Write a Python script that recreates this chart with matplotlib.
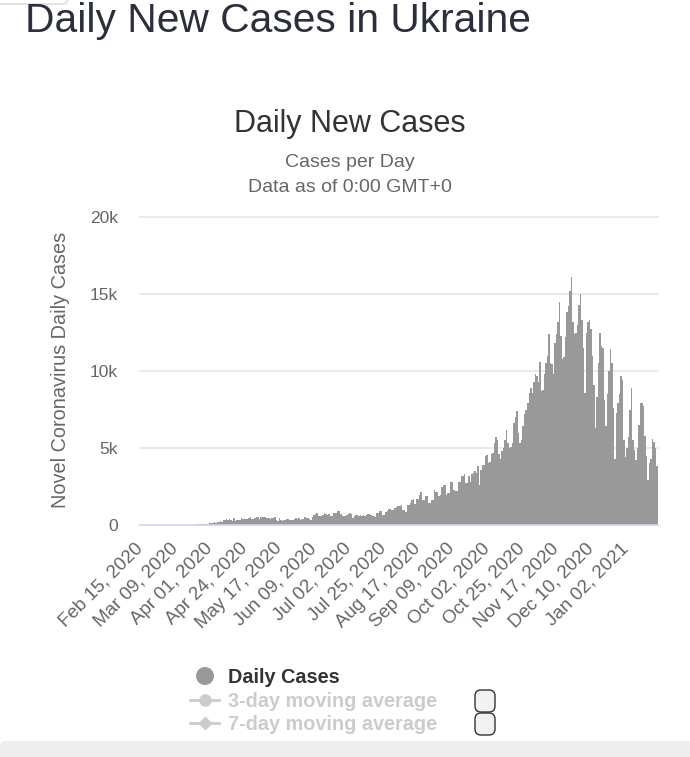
import matplotlib
matplotlib.use("Agg")
import matplotlib.pyplot as plt
from matplotlib.patches import Circle, FancyBboxPatch
import numpy as np
import pandas as pd

plt.rcParams['font.family'] = ['Liberation Sans', 'DejaVu Sans']

# daily new cases from Feb 15, 2020 (one value per day)
start_date = '2020-02-15'
daily_cases = (
    [0] * 17 + [1] + [0] * 9
    + [2, 0, 1, 4, 7, 2, 10, 21, 6, 25, 26, 43, 43, 83, 92, 62, 63, 73, 64]
    + [149, 153, 145, 220, 160, 188, 164, 257, 212, 326, 300, 367, 311, 392]
    + [325, 269, 432, 247, 352, 343, 333, 477, 415, 392, 416, 401, 476, 540,
       392, 418, 455, 550, 502, 387]
    + [550, 504, 550, 500, 480, 477, 375, 444, 433, 528, 325, 263, 438, 327,
       258, 325, 338, 395, 416, 339, 323, 354, 415, 479, 381, 456]
    + [339, 401, 414, 528, 470, 483, 394, 352, 543, 620, 683, 753, 565, 577,
       611, 639, 768, 703, 679, 738, 556, 590, 795, 786, 809, 922, 890, 731,
       563, 576]
    + [560, 628, 702, 750, 718, 453, 594, 622, 618, 606, 647, 585, 618, 602,
       631, 707, 740, 622, 598, 560, 540, 762, 790, 910, 893, 656, 680, 860,
       880, 1010]
    + [1045, 950, 980, 1105, 1197, 1210, 1253, 1285, 960, 945, 860, 1320, 1304,
       1420, 1650, 1660, 1360, 1710, 1720, 1950, 2150, 1620, 1600, 1890, 1910,
       1420, 1430, 1600, 1620, 2300]
    + [2150, 2140, 1900, 1920, 2500, 2600, 2610, 1950, 2050, 2060, 2800, 2790,
       2300, 2200, 2210, 2800, 2810, 3200, 3210, 3300, 2700, 2750, 3150]
    + [2800, 3300, 3400, 3500, 3400, 3800, 2600, 3600, 3900, 3900, 4500, 4550,
       4000, 4100, 4600, 4700, 5300, 5700, 5500, 4600]
    + [4300, 4800, 5000, 5500, 6200, 5300, 5000, 5050, 5300, 6600, 7000, 7400,
       6000, 5300, 5500, 6400, 7200, 7500, 7900, 8600, 8900, 8600, 9300, 9800,
       9700, 9300, 10600, 8700, 8750, 9800, 10500, 11000, 12400, 10500, 10450,
       9800]
    + [11800, 12400, 13200, 14500, 12300, 10800, 10900, 12200, 13800, 14200,
       15200, 16100, 13200, 12400, 12500, 13000, 14300, 15000, 13300, 11500,
       8600, 12500, 13200, 13300, 12700, 11000, 9100, 6300, 8300, 10500, 12500,
       11600, 11500]
    + [8100, 6400, 8500, 10000, 11400, 10500, 7600, 4300, 7300, 7900, 8500,
       9700, 9400, 5500, 4400, 5000, 5700, 7500, 8900, 5500, 4900, 4200, 5000,
       6500, 7900, 7900, 7700, 5800, 4500, 2900, 4000, 4300, 5600, 5400, 5000,
       3800]
)

tick_labels = ['Feb 15, 2020', 'Mar 09, 2020', 'Apr 01, 2020', 'Apr 24, 2020',
               'May 17, 2020', 'Jun 09, 2020', 'Jul 02, 2020', 'Jul 25, 2020',
               'Aug 17, 2020', 'Sep 09, 2020', 'Oct 02, 2020', 'Oct 25, 2020',
               'Nov 17, 2020', 'Dec 10, 2020', 'Jan 02, 2021']
y_ticks = [0, 5000, 10000, 15000, 20000]
y_tick_labels = ['0', '5k', '10k', '15k', '20k']

df = pd.DataFrame({
    'date': pd.date_range(start_date, periods=len(daily_cases), freq='D'),
    'cases': daily_cases,
})
label_dates = pd.to_datetime(tick_labels, format='%b %d, %Y')
tick_pos = [int(np.where(df['date'] == d)[0][0]) for d in label_dates]

W, H = 690, 757
fig = plt.figure(figsize=(W / 100, H / 100), dpi=100)
fig.patch.set_facecolor('white')

# overlay in pixel coordinates for the page decorations and legend
bg = fig.add_axes([0, 0, 1, 1])
bg.set_xlim(0, W)
bg.set_ylim(H, 0)
bg.axis('off')

def px(x, y):
    return x / W, 1 - y / H

fig.text(*px(25, 32), 'Daily New Cases in Ukraine', fontsize=29.3,
         color='#2b2e3b', va='baseline', ha='left')
bg.add_patch(FancyBboxPatch((-10, -12), 78, 16, boxstyle='round,pad=0,rounding_size=6',
                            facecolor='white', edgecolor='#d8d8d8', lw=1))

fig.text(*px(350, 132), 'Daily New Cases', fontsize=22, color='#333333',
         ha='center', va='baseline')
fig.text(*px(350, 167), 'Cases per Day', fontsize=14, color='#666666',
         ha='center', va='baseline')
fig.text(*px(350, 192), 'Data as of 0:00 GMT+0', fontsize=14, color='#666666',
         ha='center', va='baseline')

left, right, top, bottom = 140, 658, 217, 525
ax = fig.add_axes([left / W, 1 - bottom / H, (right - left) / W, (bottom - top) / H])
ax.set_facecolor('none')
ax.bar(df.index, df['cases'], width=1.0, color='#999999', linewidth=0, zorder=2)
ax.set_xlim(-0.5, len(df) - 0.5)
ax.set_ylim(0, 20000)

for v in y_ticks[1:]:
    ax.axhline(v, color='#e6e6e6', lw=1.2, zorder=0, clip_on=False)
ax.axhline(0, color='#ccd6eb', lw=1.2, zorder=3, clip_on=False)

for s in ax.spines.values():
    s.set_visible(False)
ax.set_yticks(y_ticks)
ax.set_yticklabels(y_tick_labels, fontsize=12.5, color='#666666')
ax.tick_params(axis='y', length=0, pad=27)
ax.set_xticks(tick_pos)
ax.set_xticklabels(tick_labels, rotation=45, ha='right', va='center',
                   rotation_mode='anchor', fontsize=13.5, color='#666666')
ax.tick_params(axis='x', length=0, pad=15)
ax.tick_params(axis='y', pad=16)

fig.text(*px(61, 370), 'Novel Coronavirus Daily Cases', rotation=90,
         fontsize=14.3, color='#666666', ha='center', va='center')

# legend
bg.add_patch(Circle((205, 676), 9, facecolor='#999999', edgecolor='none'))
fig.text(*px(228, 683), 'Daily Cases', fontsize=14.3, fontweight='bold',
         color='#333333', va='baseline')
bg.plot([190, 219], [700, 700], color='#cccccc', lw=2)
bg.plot([205], [700], marker='o', ms=8, color='#cccccc')
fig.text(*px(228, 707), '3-day moving average', fontsize=14.3, fontweight='bold',
         color='#cccccc', va='baseline')
bg.plot([190, 219], [723, 723], color='#cccccc', lw=2)
bg.plot([205], [723], marker='D', ms=6, color='#cccccc')
fig.text(*px(228, 730), '7-day moving average', fontsize=14.3, fontweight='bold',
         color='#cccccc', va='baseline')
for y0 in (690, 713):
    bg.add_patch(FancyBboxPatch((475, y0), 20, 22, boxstyle='round,pad=0,rounding_size=6',
                                facecolor='#f2f2f2', edgecolor='#333333', lw=1))

bg.add_patch(FancyBboxPatch((0, 741), 700, 30, boxstyle='round,pad=0,rounding_size=6',
                            facecolor='#eeeeee', edgecolor='none'))

fig.savefig('out.png', dpi=100, facecolor='white')
